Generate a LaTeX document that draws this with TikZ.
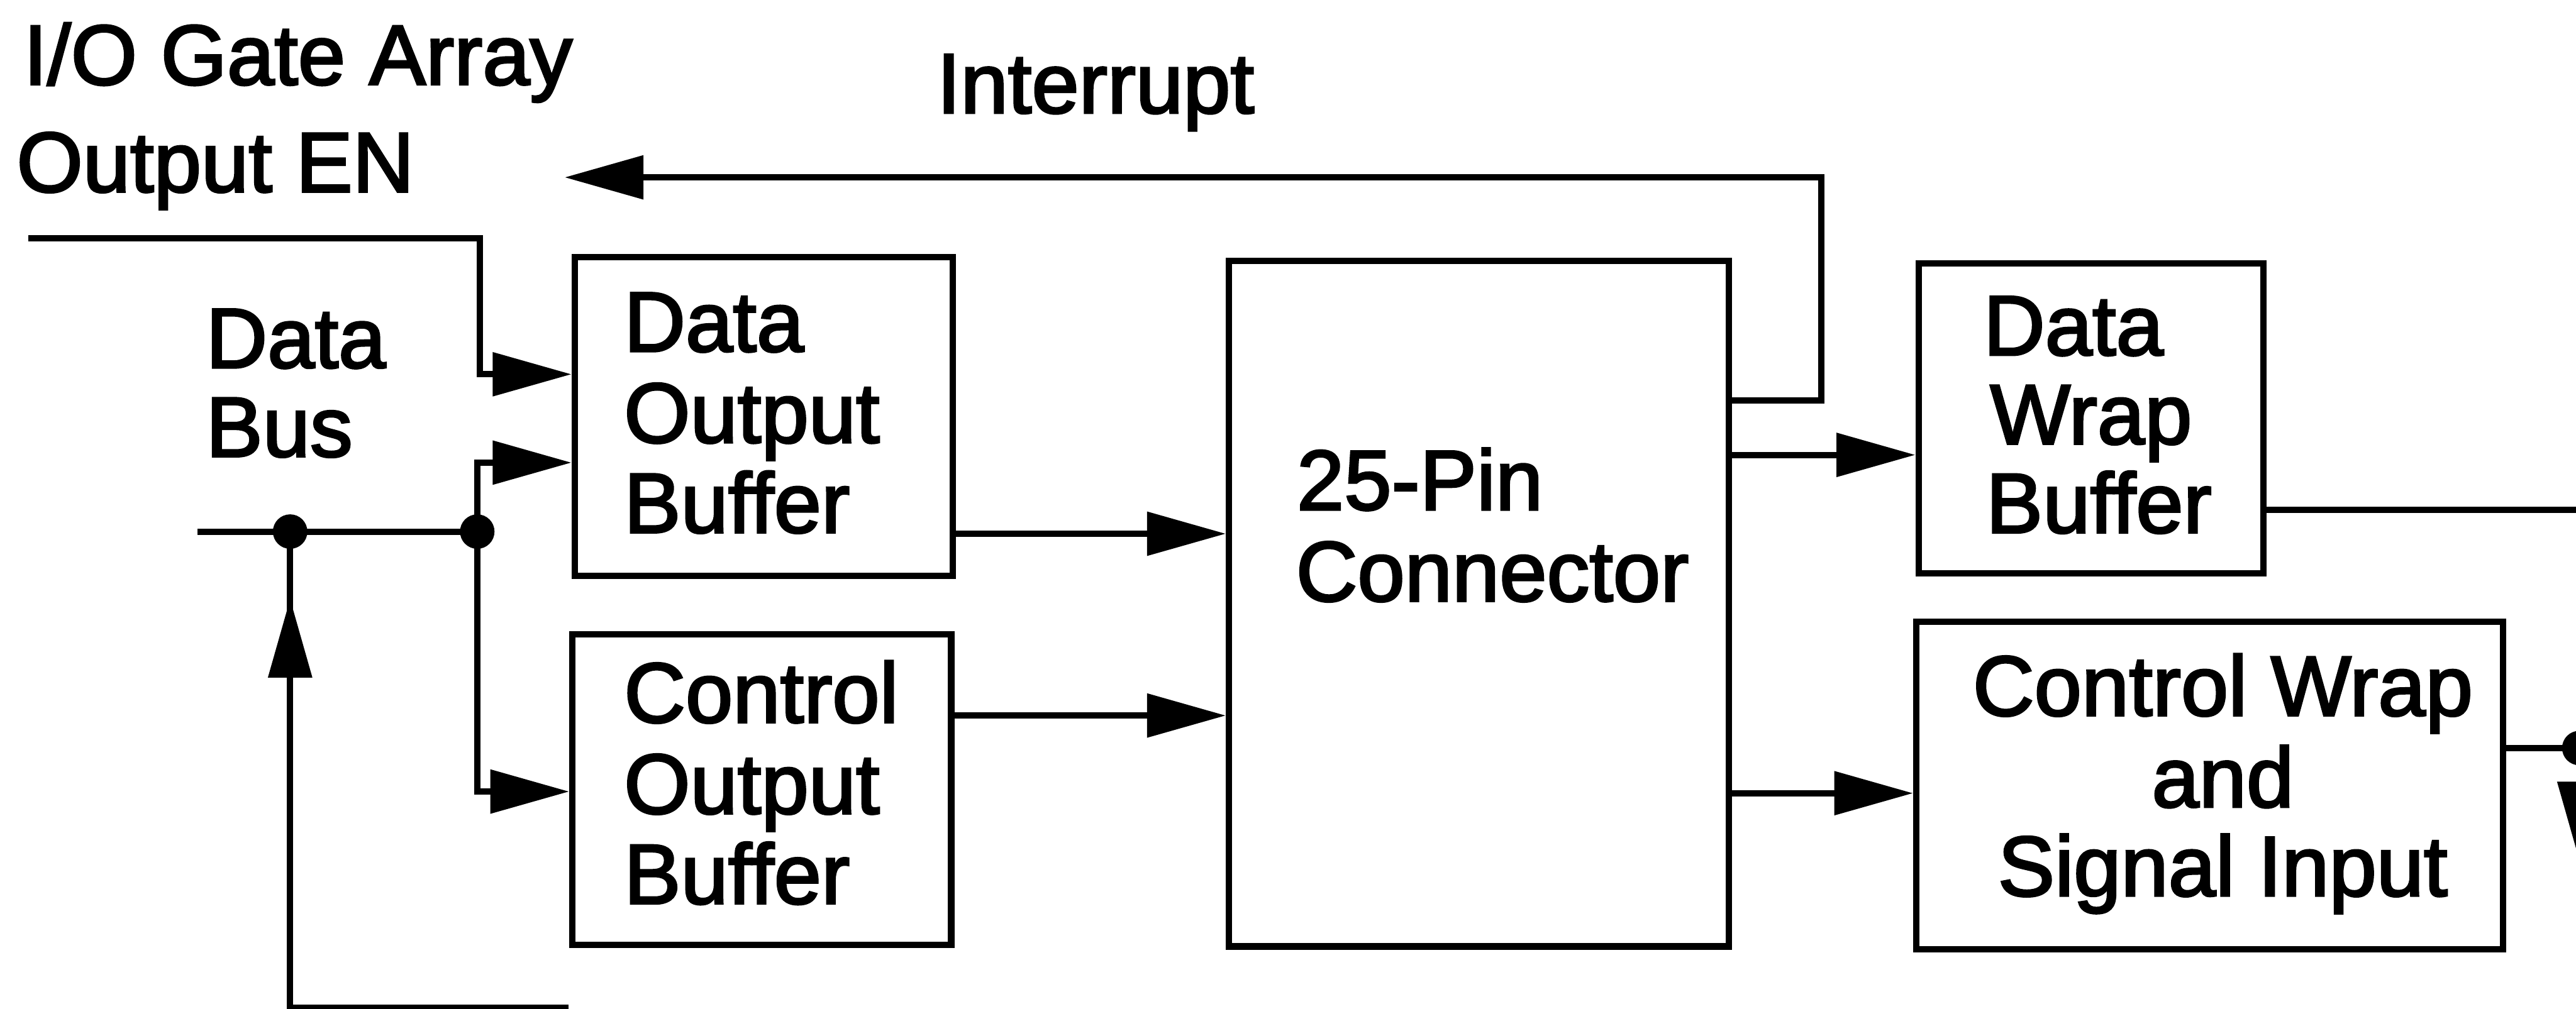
\documentclass[tikz,border=0pt]{standalone}
\usepackage{fontspec}
\usetikzlibrary{arrows.meta,fit}
\newfontfamily\lblfont{Liberation Sans}[FakeBold=2.5]
\tikzset{
  box/.style={draw, rectangle, inner sep=0pt, line width=2.2pt},
  wire/.style={line width=2.2pt},
  arr/.style={wire, -{Triangle[length=0.96cm,width=0.52cm]}},
  lbl/.style={inner sep=0pt, anchor=base west, font=\lblfont\fontsize{29.5}{31.4}\selectfont},
  clbl/.style={lbl, anchor=base},
  jdot/.style={circle, fill, inner sep=0pt, minimum size=0.42cm},
}
\begin{document}
\begin{tikzpicture}[x=0.02cm,y=0.02cm]
\useasboundingbox (0,0) rectangle (1568,-614.4);
\fill[white] (0,0) rectangle (1568,-614.4);
\clip (0,0) rectangle (1568,-614.4);

% boxes
\node[box, fit={(349.8,-156.4) (579.8,-350.6)}] (dob) {};
\node[box, fit={(348.4,-386.3) (579,-575.3)}] (cob) {};
\node[box, fit={(748.1,-158.9) (1052.5,-576.3)}] (con) {};
\node[box, fit={(1167.8,-160.4) (1377.6,-349.1)}] (dwb) {};
\node[box, fit={(1166.4,-378.5) (1523.7,-577.9)}] (cws) {};

% labels
\node[lbl] (t1) at (14,-51.5) {I/O Gate Array};
\node[lbl] (t2) at (9.8,-116.8) {Output EN};
\node[lbl] (t3) at (570,-68.8) {Interrupt};
\node[lbl] (t4) at (125,-223.9) {Data};
\node[lbl] (t5) at (125,-278) {Bus};

\node[lbl] (d1) at (379.5,-214) {Data};
\node[lbl] (d2) at (379.5,-269.5) {Output};
\node[lbl] (d3) at (379.5,-324.3) {Buffer};

\node[lbl] (c1) at (379.5,-439.9) {Control};
\node[lbl] (c2) at (379.5,-495.4) {Output};
\node[lbl] (c3) at (379.5,-550.3) {Buffer};

\node[lbl] (p1) at (789,-310.4) {25-Pin};
\node[lbl] (p2) at (788.5,-366) {Connector};

\node[lbl] (w1) at (1207,-216.2) {Data};
\node[lbl] (w2) at (1211,-270.3) {Wrap};
\node[lbl] (w3) at (1208.5,-324.4) {Buffer};

\node[clbl] (s1) at (1353,-435.7) {Control Wrap};
\node[clbl] (s2) at (1353,-491.4) {and};
\node[clbl] (s3) at (1353,-545.5) {Signal Input};

% connectors between boxes
\draw[arr] (dob.east |- 0,-325) -- (con.west |- 0,-325);
\draw[arr] (cob.east |- 0,-435.7) -- (con.west |- 0,-435.7);
\draw[arr] (con.east |- 0,-277) -- (dwb.west |- 0,-277);
\draw[arr] (con.east |- 0,-483) -- (cws.west |- 0,-483);

% interrupt
\coordinate (intTip) at (343.7,-108);
\draw[arr] (con.east |- 0,-244) -| (1108.5,-108) -- (intTip);

% output enable
\coordinate (enL) at (17.4,-145.2);
\draw[arr] (enL) -| (292,-227.9) -- (dob.west |- 0,-227.9);

% data bus
\coordinate (busL) at (120.3,-323.7);
\node[jdot] (j1) at (176.6,-323.7) {};
\node[jdot] (j2) at (290.5,-323.7) {};
\draw[wire] (busL) -- (j2.center);
\draw[arr] (j2.center) |- (dob.west |- 0,-281.7);
\draw[arr] (j2.center) |- (cob.west |- 0,-482);

% bottom return
\coordinate (botL) at (176.6,-613.5);
\coordinate (botR) at (346,-613.5);
\coordinate (upB) at (176.6,-416);
\coordinate (upT) at (176.6,-364.6);
\draw[wire] (j1.center) -- (botL) -- (botR);
\draw[arr] (upB) -- (upT);

% right edge
\coordinate (rTop) at (1571,-310.3);
\coordinate (rTip) at (1570,-524);
\coordinate (rBot) at (1571,-620);
\node[jdot] (rdot) at (1570,-455.5) {};
\draw[wire] (dwb.east |- rTop) -- (rTop) -- (rBot);
\draw[wire] (cws.east |- rdot) -- (rdot.center);
\draw[arr] (rdot.center) -- (rTip);
\end{tikzpicture}
\end{document}
